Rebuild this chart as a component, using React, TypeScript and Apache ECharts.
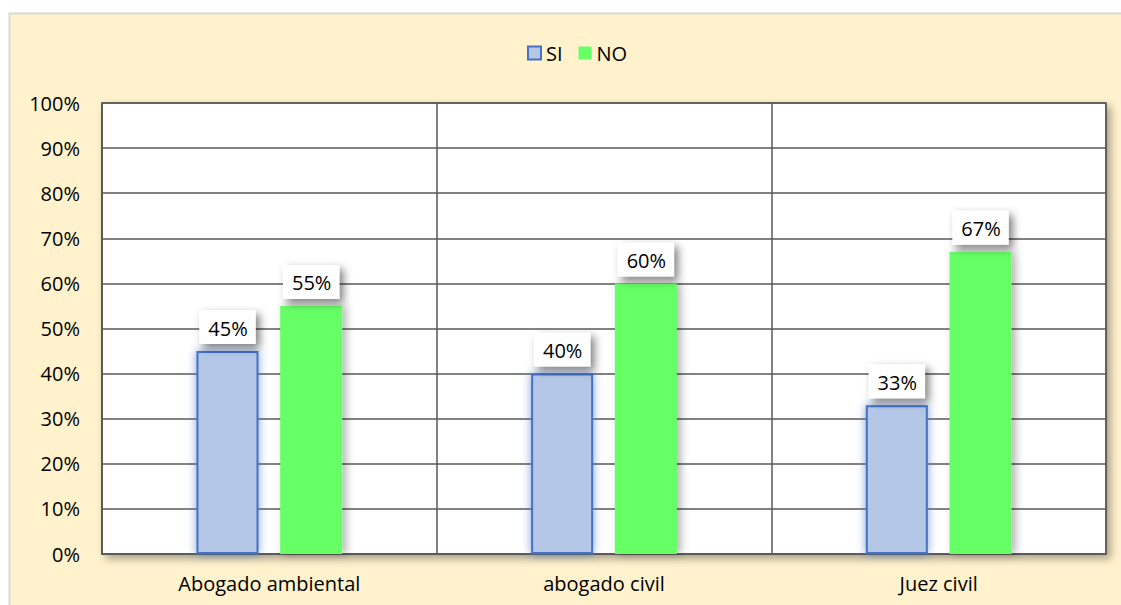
import React, { useEffect, useRef } from "react";
import * as echarts from "echarts";

// Respuestas por tipo de entrevistado (porcentaje)
const categories = ["Abogado ambiental", "abogado civil", "Juez civil"];
const siValues = [45, 40, 33];
const noValues = [55, 60, 67];
const yTicks = { min: 0, max: 100, interval: 10 };

const FONT = "'Open Sans', 'Noto Sans', sans-serif";

export default function App() {
  const ref = useRef<HTMLDivElement>(null);

  useEffect(() => {
    if (!ref.current) return;
    const chart = echarts.init(ref.current, null, { renderer: "svg" });

    const label = {
      show: true,
      position: "top" as const,
      distance: 7,
      formatter: "{c}%",
      color: "#000",
      fontFamily: FONT,
      fontSize: 20,
      backgroundColor: "#fff",
      padding: [8, 8, 6, 9],
      shadowColor: "rgba(0,0,0,0.5)",
      shadowBlur: 8,
      shadowOffsetX: 4,
      shadowOffsetY: 4,
    };

    chart.setOption({
      animation: false,
      backgroundColor: "#fff",
      textStyle: { fontFamily: FONT },
      graphic: [
        {
          type: "rect",
          z: -10,
          silent: true,
          shape: { x: 9.5, y: 13.5, width: 1120, height: 600 },
          style: { fill: "#FFF2CC", stroke: "#D9D9D9", lineWidth: 2 },
        },
      ],
      legend: {
        top: 38,
        left: 522,
        itemWidth: 13,
        itemHeight: 13,
        itemGap: 16,
        textStyle: { fontSize: 20, color: "#000", fontFamily: FONT },
        data: [
          { name: "SI", icon: "rect", itemStyle: { color: "#B4C7E7", borderColor: "#4472C4", borderWidth: 2 } },
          { name: "NO", icon: "rect", itemStyle: { color: "#66FF66", borderWidth: 0 } },
        ],
      },
      grid: {
        left: 102,
        right: 15,
        top: 103,
        bottom: 51,
        show: true,
        backgroundColor: "#fff",
        borderColor: "#595959",
        borderWidth: 1.5,
        shadowColor: "rgba(0,0,0,0.35)",
        shadowBlur: 8,
        shadowOffsetX: 4,
        shadowOffsetY: 4,
      },
      xAxis: {
        type: "category",
        data: categories,
        axisLine: { show: true, lineStyle: { color: "#595959", width: 1.5 } },
        axisTick: { show: false },
        axisLabel: { color: "#000", fontSize: 20, fontFamily: FONT, margin: 19 },
        splitLine: { show: true, lineStyle: { color: "#595959", width: 1.5 } },
      },
      yAxis: {
        type: "value",
        min: yTicks.min,
        max: yTicks.max,
        interval: yTicks.interval,
        axisLine: { show: true, lineStyle: { color: "#595959", width: 1.5 } },
        axisTick: { show: false },
        axisLabel: { color: "#000", fontSize: 20, fontFamily: FONT, margin: 22, formatter: "{value}%" },
        splitLine: { show: true, lineStyle: { color: "#595959", width: 1.5 } },
      },
      series: [
        {
          name: "SI",
          type: "bar",
          data: siValues,
          barWidth: 62,
          barGap: "35%",
          itemStyle: {
            color: "#B4C7E7",
            borderColor: "#4472C4",
            borderWidth: 2,
            shadowColor: "rgba(68,114,196,0.7)",
            shadowBlur: 10,
          },
          label,
        },
        {
          name: "NO",
          type: "bar",
          data: noValues,
          barWidth: 62,
          itemStyle: {
            color: "#66FF66",
            shadowColor: "rgba(0,0,0,0.3)",
            shadowBlur: 8,
            shadowOffsetX: 4,
            shadowOffsetY: 0,
          },
          label,
        },
      ],
    });

    return () => chart.dispose();
  }, []);

  return (
    <div
      ref={ref}
      style={{ position: "fixed", left: 0, top: 0, width: 1121, height: 605 }}
    />
  );
}
